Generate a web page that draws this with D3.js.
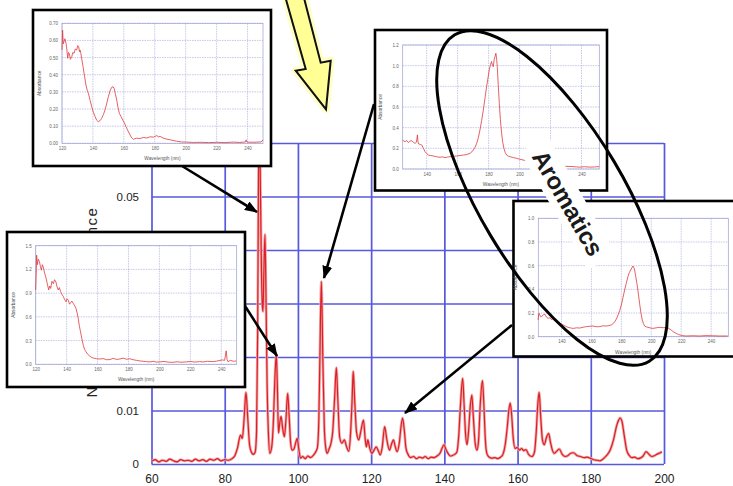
<!DOCTYPE html>
<html>
<head>
<meta charset="utf-8">
<script src="https://cdn.jsdelivr.net/npm/d3@7"></script>
<style>
  body { margin: 0; background: #fff; }
  svg { display: block; font-family: "Liberation Sans", Arial, sans-serif; }
</style>
</head>
<body>
<svg id="chart" width="733" height="486"></svg>
<script>
// ---- main chart data: wavelength (nm) vs normalized absorbance ----
const xTicks = [60, 80, 100, 120, 140, 160, 180, 200];
const yTicks = [0, 0.01, 0.02, 0.03, 0.04, 0.05, 0.06];
// the 0.06 label sits under the top-left inset in the picture
const yLabelTicks = [0, 0.01, 0.02, 0.03, 0.04, 0.05];
const yTickLabels = ['0', '0.01', '0.02', '0.03', '0.04', '0.05'];

const mainSpectrum = [
  [60,0.0005],[61,0.0008],[62,0.0004],[63,0.0007],[64,0.0005],[65,0.0009],[66,0.0006],[67,0.0004],
  [68,0.0008],[69,0.0006],[70,0.0007],[71,0.0005],[72,0.0009],[73,0.0006],[74,0.0008],[75,0.0005],
  [76,0.0009],[77,0.0007],[78,0.0010],[79,0.0006],[80,0.0008],[81,0.0007],[82,0.0010],[82.8,0.0016],
  [83.5,0.0030],[84.3,0.0054],[84.8,0.0048],[85.3,0.0085],[85.8,0.0134],[86.3,0.0085],[86.8,0.0035],
  [87.3,0.0022],[87.8,0.0018],[88.3,0.0022],[88.7,0.006],[89.0,0.025],[89.2,0.05],[89.45,0.068],
  [89.7,0.055],[90.0,0.038],[90.25,0.030],[90.45,0.0285],[90.7,0.036],[91.0,0.0429],[91.3,0.030],
  [91.6,0.014],[91.9,0.0065],[92.3,0.0020],[92.8,0.0030],[93.3,0.008],[93.7,0.016],[94.1,0.0204],
  [94.4,0.014],[94.7,0.0058],[95.0,0.0075],[95.4,0.0089],[95.8,0.0068],[96.3,0.0051],[96.7,0.008],
  [97.2,0.0132],[97.6,0.009],[98.0,0.004],[98.4,0.0026],[98.9,0.0028],[99.4,0.0040],[99.8,0.0048],
  [100.2,0.0030],[100.7,0.0011],[101.3,0.0014],[102,0.0010],[102.7,0.0015],[103.4,0.0012],[104.2,0.0016],
  [104.8,0.0022],[105.3,0.003],[105.7,0.008],[106.0,0.02],[106.4,0.0341],[106.8,0.02],[107.2,0.007],
  [107.6,0.003],[108.0,0.002],[108.5,0.0028],[109.0,0.0038],[109.5,0.006],[110.0,0.012],[110.5,0.018],
  [110.9,0.012],[111.4,0.005],[112.0,0.0039],[112.7,0.0045],[113.3,0.0032],[113.9,0.0024],[114.4,0.006],
  [114.8,0.012],[115.1,0.0173],[115.5,0.012],[116.0,0.006],[116.6,0.0045],[117.2,0.0062],[117.9,0.0082],
  [118.4,0.0045],[118.7,0.0032],[119.1,0.0045],[119.6,0.0030],[120.2,0.0020],[120.8,0.0026],[121.4,0.0032],
  [122.0,0.0024],[122.5,0.0017],[123.0,0.003],[123.7,0.007],[124.3,0.0045],[125.0,0.0026],[125.6,0.0038],
  [126.1,0.0045],[126.6,0.0032],[127.1,0.0023],[127.7,0.004],[128.2,0.0072],[128.6,0.0086],[129.1,0.006],
  [129.5,0.003],[130.0,0.0019],[130.8,0.0012],[131.6,0.0014],[132.4,0.0010],[133.2,0.0013],[134.0,0.0011],
  [134.8,0.0014],[135.6,0.0010],[136.4,0.0013],[137.2,0.0012],[138.0,0.0015],[138.8,0.0020],[139.4,0.0030],
  [139.9,0.0036],[140.5,0.0026],[141.0,0.0020],[141.6,0.0015],[142.2,0.0016],[142.8,0.0018],[143.4,0.0022],
  [143.9,0.005],[144.4,0.011],[145.0,0.016],[145.4,0.011],[145.8,0.0055],[146.2,0.0036],[146.6,0.006],
  [147.1,0.011],[147.5,0.0129],[147.9,0.009],[148.4,0.004],[148.9,0.0026],[149.3,0.004],[149.8,0.011],
  [150.4,0.0156],[150.8,0.011],[151.2,0.0045],[151.6,0.0020],[152.2,0.0013],[153.0,0.0011],[153.8,0.0012],
  [154.6,0.0010],[155.4,0.0013],[156.0,0.0018],[156.6,0.0035],[157.2,0.007],[157.6,0.0100],[158.0,0.0114],
  [158.4,0.009],[158.8,0.005],[159.3,0.0029],[159.9,0.0031],[160.5,0.0026],[161.1,0.0029],[161.7,0.0025],
  [162.3,0.0027],[163.0,0.0018],[163.9,0.0014],[164.6,0.0022],[165.1,0.006],[165.5,0.011],[165.9,0.0134],
  [166.3,0.009],[166.8,0.0045],[167.3,0.0036],[167.9,0.0050],[168.5,0.0057],[169.0,0.0040],[169.5,0.0026],
  [170.0,0.0020],[170.7,0.0024],[171.4,0.0028],[172.2,0.0018],[173.0,0.0014],[173.8,0.0016],[174.5,0.0020],
  [175.3,0.0021],[176.2,0.0016],[177.2,0.0014],[178.2,0.0012],[179.0,0.0013],[179.8,0.0011],[180.8,0.0008],
  [181.7,0.0007],[182.5,0.0006],[183.3,0.0009],[184.2,0.0015],[185.3,0.0026],[186.2,0.0045],[187.0,0.0070],
  [187.6,0.0082],[188.0,0.0086],[188.5,0.0080],[189.1,0.0055],[189.8,0.0026],[190.5,0.0016],[191.2,0.0012],
  [192.0,0.0013],[192.8,0.0010],[193.5,0.0011],[194.3,0.0015],[195.1,0.0023],[195.9,0.0018],[196.7,0.0014],
  [197.5,0.0016],[198.3,0.0019],[199.0,0.0021],[199.4,0.0023]
];

// ---- inset spectra (absorbance vs wavelength, nm) ----
const insetXTicksA = [120, 140, 160, 180, 200, 220, 240];
const insetXTicksB = [140, 160, 180, 200, 220, 240];

const topLeftTicksY = [0, 0.1, 0.2, 0.3, 0.4, 0.5, 0.6, 0.7];
const topLeftSpectrum = [
  [120,0.545],[120.4,0.66],[120.8,0.58],[121.3,0.593],[121.9,0.61],[122.6,0.583],[123.1,0.55],[123.7,0.496],
  [124.2,0.53],[124.7,0.525],[125.4,0.49],[126.3,0.505],[127.0,0.53],[127.8,0.525],[128.6,0.55],[129.5,0.544],
  [130.2,0.57],[130.8,0.564],[131.3,0.535],[131.7,0.544],[132.2,0.525],[132.7,0.496],[133.8,0.437],[134.6,0.39],
  [135.5,0.34],[136.3,0.31],[137.1,0.29],[138.2,0.25],[139.2,0.214],[140.3,0.18],[141.4,0.156],[142.4,0.135],
  [143.5,0.126],[144.6,0.132],[145.7,0.146],[146.8,0.168],[147.8,0.194],[149.0,0.235],[150.0,0.272],[151.2,0.31],
  [152.2,0.327],[153.0,0.33],[153.7,0.321],[154.6,0.285],[155.4,0.253],[156.2,0.21],[157.1,0.175],[158.2,0.155],
  [159.3,0.136],[160.4,0.118],[161.4,0.097],[162.7,0.072],[164.0,0.049],[165.1,0.032],[166.2,0.023],[168.0,0.03],
  [170.5,0.028],[172.5,0.034],[174.8,0.031],[177.0,0.038],[179.1,0.036],[181.3,0.045],[182.4,0.038],[183.5,0.04],
  [185.6,0.03],[187.8,0.024],[190.0,0.02],[194.2,0.012],[197.0,0.008],[200.7,0.007],[205.0,0.005],[209.4,0.006],
  [214.8,0.004],[220.2,0.006],[225.5,0.004],[230.9,0.007],[235.0,0.005],[238.6,0.008],[239.1,0.02],[239.6,0.007],
  [244.0,0.006],[248.2,0.008],[249.3,0.012],[250,0.02]
];

const bottomLeftTicksY = [0, 0.3, 0.6, 0.9, 1.2, 1.5];
const bottomLeftSpectrum = [
  [120.0,0.94],[120.4,1.2],[120.6,1.38],[121.1,1.26],[121.7,1.33],[122.4,1.30],[123.0,1.24],[123.7,1.19],
  [124.3,1.26],[124.9,1.23],[125.8,1.15],[126.7,1.09],[127.5,1.02],[128.4,0.94],[129.0,0.99],[129.7,0.96],
  [130.5,1.05],[131.4,1.02],[132.2,1.07],[133.1,1.04],[133.8,0.98],[134.6,0.94],[135.3,0.97],[136.1,0.92],
  [137.0,0.88],[137.8,0.86],[138.7,0.82],[139.6,0.79],[140.3,0.83],[141.1,0.81],[141.9,0.76],[142.6,0.78],
  [143.4,0.80],[144.3,0.77],[145.2,0.74],[146.0,0.71],[146.8,0.65],[147.5,0.58],[148.2,0.49],[149.0,0.41],
  [149.9,0.32],[150.8,0.24],[151.6,0.19],[152.5,0.16],[153.5,0.13],[154.6,0.11],[155.9,0.09],[157.2,0.08],
  [159.3,0.07],[161.5,0.067],[163.6,0.072],[165.8,0.058],[168.0,0.06],[170.1,0.075],[172.3,0.062],[174.4,0.067],
  [176.6,0.078],[178.7,0.064],[180.9,0.07],[183.0,0.058],[185.2,0.05],[187.4,0.042],[189.5,0.038],[191.6,0.034],
  [194.0,0.03],[196.0,0.038],[198.0,0.028],[200.2,0.03],[203.0,0.036],[205.6,0.027],[208.8,0.025],[211.5,0.032],
  [214.0,0.026],[217.4,0.03],[220.0,0.036],[222.8,0.028],[226.0,0.034],[228.5,0.03],[231.0,0.038],[234.6,0.034],
  [237.0,0.04],[240.6,0.055],[242.2,0.05],[243.2,0.17],[243.8,0.06],[244.3,0.034],[246.0,0.05],[248.0,0.038],
  [249.7,0.042]
];

const topMidTicksY = [0, 0.2, 0.4, 0.6, 0.8, 1, 1.2];
const topMidSpectrum = [
  [124.5,0.28],[125.3,0.27],[126.0,0.265],[127.0,0.275],[128.2,0.255],[129.2,0.27],[130.3,0.274],[131.4,0.258],
  [132.5,0.248],[133.4,0.26],[134.0,0.33],[134.4,0.26],[134.8,0.242],[135.8,0.238],[136.8,0.232],[137.9,0.2],
  [138.9,0.168],[140.0,0.15],[141.1,0.135],[142.7,0.13],[144.3,0.126],[146.5,0.118],[148.6,0.113],[150.2,0.118],
  [151.8,0.11],[153.5,0.116],[155.1,0.119],[157.2,0.122],[159.4,0.126],[161.5,0.13],[163.7,0.135],[166.0,0.14],
  [168.0,0.152],[169.1,0.165],[170.1,0.184],[171.2,0.21],[172.3,0.248],[173.4,0.305],[174.4,0.377],[175.5,0.47],
  [176.6,0.571],[177.7,0.69],[178.7,0.797],[179.6,0.88],[180.4,0.958],[181.2,1.01],[181.9,1.04],[182.5,1.0],
  [183.0,0.99],[183.6,1.06],[184.1,1.087],[184.7,1.12],[185.2,1.06],[185.6,0.99],[186.2,0.82],[186.9,0.635],
  [187.6,0.48],[188.4,0.345],[189.1,0.26],[189.9,0.2],[190.7,0.16],[191.6,0.135],[192.7,0.125],[193.8,0.119],
  [196.0,0.11],[198.1,0.103],[200.2,0.094],[204.5,0.08],[208.8,0.07],[213.0,0.06],[217.4,0.048],[222.0,0.038],
  [226.0,0.03],[230.0,0.026],[234.6,0.023],[236.8,0.02],[238.9,0.018],[242.0,0.022],[245.4,0.018],[248.5,0.02],
  [251.4,0.023]
];

const rightTicksY = [0, 0.2, 0.4, 0.6, 0.8, 1];
const rightSpectrum = [
  [124.4,0.141],[124.7,0.19],[125.1,0.197],[125.9,0.17],[126.7,0.169],[127.8,0.185],[128.9,0.19],[130.0,0.165],
  [131.1,0.155],[132.2,0.16],[133.3,0.145],[134.4,0.155],[135.6,0.138],[136.7,0.13],[137.8,0.127],[139.4,0.11],
  [141.1,0.099],[142.8,0.088],[144.4,0.079],[146.1,0.074],[147.8,0.07],[150.0,0.075],[152.2,0.073],[154.4,0.08],
  [156.7,0.085],[158.9,0.088],[161.1,0.09],[163.3,0.084],[165.6,0.085],[167.8,0.092],[170.0,0.09],[171.7,0.094],
  [173.3,0.099],[174.5,0.11],[175.6,0.127],[176.7,0.15],[177.8,0.183],[178.9,0.22],[180.0,0.268],[181.1,0.33],
  [182.2,0.394],[183.3,0.45],[184.4,0.507],[185.3,0.54],[186.2,0.563],[187.0,0.58],[187.8,0.597],[188.3,0.585],
  [188.9,0.563],[189.6,0.51],[190.4,0.451],[191.3,0.37],[192.2,0.282],[193.1,0.2],[194.0,0.141],[194.8,0.11],
  [195.6,0.09],[196.7,0.083],[197.8,0.079],[199.4,0.074],[201.1,0.07],[203.3,0.075],[205.6,0.079],[207.8,0.076],
  [210.0,0.077],[211.7,0.07],[213.3,0.056],[215.0,0.04],[216.7,0.028],[218.3,0.018],[220.0,0.011],[221.7,0.008],
  [223.3,0.006],[227.8,0.008],[232.2,0.006],[236.7,0.009],[241.1,0.008],[245.6,0.006],[251.1,0.006]
];

const svg = d3.select('#chart');

// ---------------- main chart ----------------
const plot = { left: 151.5, right: 664, top: 143, bottom: 464 };
const x = d3.scaleLinear().domain([60, 200]).range([plot.left, plot.right]);
const y = d3.scaleLinear().domain([0, 0.06]).range([plot.bottom, plot.top]);
const gridBlue = '#5858dc';

const main = svg.append('g');

// grid (vertical + horizontal) built from the axes
main.append('g')
  .attr('transform', `translate(0,${plot.bottom})`)
  .call(d3.axisBottom(x).tickValues(xTicks).tickSize(-(plot.bottom - plot.top)).tickFormat(''))
  .call(g => g.select('.domain').remove())
  .selectAll('line').attr('stroke', gridBlue).attr('stroke-width', 1.7);

main.append('g')
  .attr('transform', `translate(${plot.left},0)`)
  .call(d3.axisLeft(y).tickValues(yTicks).tickSize(-(plot.right - plot.left)).tickFormat(''))
  .call(g => g.select('.domain').remove())
  .selectAll('line').attr('stroke', gridBlue).attr('stroke-width', 1.7);

// tick labels
main.append('g')
  .attr('transform', `translate(0,${plot.bottom})`)
  .call(d3.axisBottom(x).tickValues(xTicks).tickSize(0).tickPadding(10.5))
  .call(g => g.select('.domain').remove())
  .selectAll('text')
  .attr('font-family', '"Liberation Sans", Arial, sans-serif')
  .attr('font-size', 12).attr('fill', '#222');

main.append('g')
  .attr('transform', `translate(${plot.left},0)`)
  .call(d3.axisLeft(y).tickValues(yLabelTicks).tickSize(0).tickPadding(12.5)
    .tickFormat((d, i) => yTickLabels[i]))
  .call(g => g.select('.domain').remove())
  .selectAll('text')
  .attr('font-family', '"Liberation Sans", Arial, sans-serif')
  .attr('font-size', 11.5).attr('fill', '#222');

// y axis title
main.append('text')
  .attr('transform', 'translate(97,302) rotate(-90)')
  .attr('text-anchor', 'middle')
  .attr('font-size', 15)
  .attr('letter-spacing', 1.5)
  .attr('fill', '#222')
  .text('Normalized Absorbance');

// spectrum
const mainLine = d3.line()
  .x(d => x(d[0]))
  .y(d => y(d[1]))
  .curve(d3.curveMonotoneX);

main.append('path')
  .datum(mainSpectrum)
  .attr('d', mainLine)
  .attr('fill', 'none')
  .attr('stroke', '#f2a8a8')
  .attr('stroke-width', 2.8);

main.append('path')
  .datum(mainSpectrum)
  .attr('d', mainLine)
  .attr('fill', 'none')
  .attr('stroke', '#dc1f26')
  .attr('stroke-width', 1.2);

// ---------------- insets ----------------
function drawInset(box, area, xDomain, yDomain, xTickVals, yTickVals, data) {
  const g = svg.append('g');
  g.append('rect')
    .attr('x', box[0]).attr('y', box[1])
    .attr('width', box[2] - box[0]).attr('height', box[3] - box[1])
    .attr('fill', '#fff').attr('stroke', '#000').attr('stroke-width', 2.6);

  const ix = d3.scaleLinear().domain(xDomain).range([area[0], area[2]]);
  const iy = d3.scaleLinear().domain(yDomain).range([area[3], area[1]]);

  // dotted grid
  g.append('g').selectAll('line').data(xTickVals).join('line')
    .attr('x1', d => ix(d)).attr('x2', d => ix(d))
    .attr('y1', area[1]).attr('y2', area[3])
    .attr('stroke', '#aeb0de').attr('stroke-width', 0.7).attr('stroke-dasharray', '1.5,1');
  g.append('g').selectAll('line').data(yTickVals).join('line')
    .attr('x1', area[0]).attr('x2', area[2])
    .attr('y1', d => iy(d)).attr('y2', d => iy(d))
    .attr('stroke', '#aeb0de').attr('stroke-width', 0.7).attr('stroke-dasharray', '1.5,1');
  g.append('rect')
    .attr('x', area[0]).attr('y', area[1])
    .attr('width', area[2] - area[0]).attr('height', area[3] - area[1])
    .attr('fill', 'none').attr('stroke', '#9c9ed4').attr('stroke-width', 0.7);

  // tiny tick labels
  g.append('g')
    .attr('transform', `translate(0,${area[3]})`)
    .call(d3.axisBottom(ix).tickValues(xTickVals).tickSize(0).tickPadding(3.5))
    .call(a => a.select('.domain').remove())
    .selectAll('text').attr('font-size', 4.5).attr('fill', '#666')
    .attr('font-family', '"Liberation Sans", Arial, sans-serif');
  g.append('g')
    .attr('transform', `translate(${area[0]},0)`)
    .call(d3.axisLeft(iy).tickValues(yTickVals).tickSize(0).tickPadding(4))
    .call(a => a.select('.domain').remove())
    .selectAll('text').attr('font-size', 4.5).attr('fill', '#666')
    .attr('font-family', '"Liberation Sans", Arial, sans-serif');

  g.append('text')
    .attr('x', (area[0] + area[2]) / 2).attr('y', area[3] + 17)
    .attr('text-anchor', 'middle').attr('font-size', 4.8).attr('fill', '#555')
    .text('Wavelength (nm)');
  g.append('text')
    .attr('transform', `translate(${area[0] - 21},${(area[1] + area[3]) / 2}) rotate(-90)`)
    .attr('text-anchor', 'middle').attr('font-size', 4.8).attr('fill', '#555')
    .text('Absorbance');

  g.append('path')
    .datum(data)
    .attr('d', d3.line().x(d => ix(d[0])).y(d => iy(d[1])))
    .attr('fill', 'none')
    .attr('stroke', '#e0383c')
    .attr('stroke-width', 0.8);
}

drawInset([33, 10, 271, 166], [62, 23.3, 263, 143.3], [120, 250], [0, 0.7],
  insetXTicksA, topLeftTicksY, topLeftSpectrum);
drawInset([7, 232, 245, 387], [35.7, 245.7, 236.7, 364.3], [120, 250], [0, 1.5],
  insetXTicksA, bottomLeftTicksY, bottomLeftSpectrum);
drawInset([375, 30, 607, 190.5], [402.7, 45, 599.3, 169], [124.5, 251.5], [0, 1.2],
  insetXTicksB, topMidTicksY, topMidSpectrum);
drawInset([513.5, 201, 745, 356.5], [538.3, 218.3, 728.3, 336.7], [124.5, 251.5], [0, 1],
  insetXTicksB, rightTicksY, rightSpectrum);

// ---------------- annotations ----------------
svg.append('defs').append('marker')
  .attr('id', 'head')
  .attr('markerUnits', 'userSpaceOnUse')
  .attr('markerWidth', 13).attr('markerHeight', 10)
  .attr('refX', 12).attr('refY', 5)
  .attr('orient', 'auto')
  .append('path').attr('d', 'M0,0 L13,5 L0,10 z').attr('fill', '#000');

const pointers = [
  [182, 166, 257, 212],
  [245, 306, 277, 356],
  [374, 104, 324, 278],
  [512, 325, 405, 413]
];
svg.append('g').selectAll('line').data(pointers).join('line')
  .attr('x1', d => d[0]).attr('y1', d => d[1])
  .attr('x2', d => d[2]).attr('y2', d => d[3])
  .attr('stroke', '#000').attr('stroke-width', 2.6)
  .attr('marker-end', 'url(#head)');

// big yellow arrow
const yellow = 'M285,-4 L303.5,-4 L320.7,62.7 L330.7,60.7 L326,109.3 L295.7,70.7 L305.7,69 Z';
svg.append('path').attr('d', yellow)
  .attr('fill', 'none').attr('stroke', '#ffffc8').attr('stroke-width', 8).attr('stroke-linejoin', 'round');
svg.append('path').attr('d', yellow)
  .attr('fill', '#ffff96').attr('stroke', '#111').attr('stroke-width', 2).attr('stroke-linejoin', 'miter');

// ellipse around aromatic bands
svg.append('ellipse')
  .attr('transform', 'translate(552,198) rotate(-30.8)')
  .attr('rx', 72).attr('ry', 190)
  .attr('fill', 'none').attr('stroke', '#000').attr('stroke-width', 3);

const label = svg.append('g').attr('transform', 'translate(568,203) rotate(60)');
label.append('rect')
  .attr('x', -68).attr('y', -16).attr('width', 136).attr('height', 32)
  .attr('fill', '#fff');
label.append('text')
  .attr('text-anchor', 'middle')
  .attr('dominant-baseline', 'central')
  .attr('font-size', 24).attr('font-weight', 'bold').attr('fill', '#1a1a1a')
  .text('Aromatics');
</script>
</body>
</html>
